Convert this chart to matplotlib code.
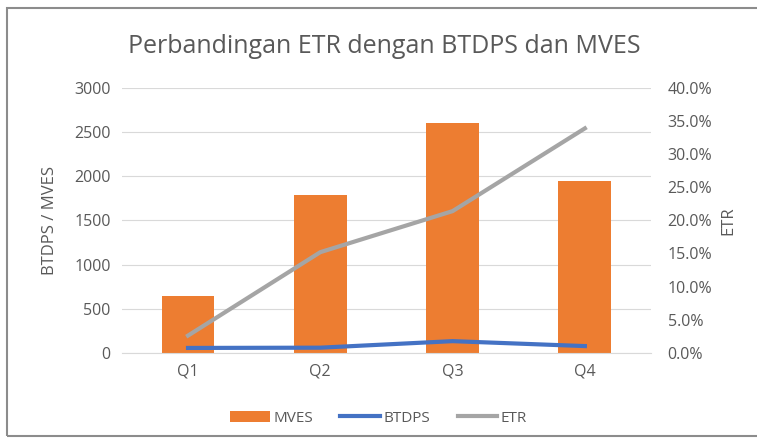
import matplotlib
matplotlib.use('Agg')
import matplotlib.pyplot as plt
from matplotlib.patches import Rectangle
from matplotlib.ticker import PercentFormatter

quarters = ['Q1', 'Q2', 'Q3', 'Q4']
mves = [645, 1790, 2600, 1950]
btdps = [55, 58, 132, 76]
etr = [2.6, 15.2, 21.4, 33.9]

plt.rcParams['font.family'] = ['Open Sans', 'DejaVu Sans']
txt = '#595959'

fig = plt.figure(figsize=(7.57, 4.41), dpi=100)
fig.patches.append(Rectangle((0.009, 0.012), 1.2, 0.97, transform=fig.transFigure,
                             fill=False, edgecolor='#8c8c8c', linewidth=1.5))

ax = fig.add_axes([0.161, 0.2, 0.699, 0.6005])
x = range(len(quarters))
ax.bar(x, mves, width=0.4, color='#ED7D31', label='MVES', zorder=2)
ax.plot(x, btdps, color='#4472C4', linewidth=3, label='BTDPS', zorder=3)
ax.set_ylim(0, 3000)
ax.set_yticks(range(0, 3001, 500))
ax.set_xlim(-0.5, 3.5)
ax.set_xticks(list(x))
ax.set_xticklabels(quarters)
ax.grid(axis='y', color='#d9d9d9', linewidth=0.8, zorder=0)
ax.set_axisbelow(True)
for s in ['top', 'right', 'left']:
    ax.spines[s].set_visible(False)
ax.spines['bottom'].set_color('#d9d9d9')
ax.tick_params(length=0, colors=txt, labelsize=11.5, pad=8)
ax.set_ylabel('BTDPS / MVES', color=txt, fontsize=12, labelpad=12)

ax2 = ax.twinx()
ax2.plot(x, etr, color='#A5A5A5', linewidth=3, label='ETR', zorder=3)
ax2.set_ylim(0, 40)
ax2.set_yticks(range(0, 41, 5))
ax2.yaxis.set_major_formatter(PercentFormatter(decimals=1))
for s in ['top', 'right', 'left', 'bottom']:
    ax2.spines[s].set_visible(False)
ax2.tick_params(length=0, colors=txt, labelsize=11.5, pad=12)
ax2.set_ylabel('ETR', color=txt, fontsize=12, labelpad=6)

fig.text(0.508, 0.895, 'Perbandingan ETR dengan BTDPS dan MVES', ha='center', va='center',
         fontsize=18, color=txt)

h1, l1 = ax.get_legend_handles_labels()
h2, l2 = ax2.get_legend_handles_labels()
order = [l1.index('MVES'), l1.index('BTDPS')]
handles = [h1[i] for i in order] + h2
labels = [l1[i] for i in order] + l2
fig.legend(handles, labels, loc='center', bbox_to_anchor=(0.5, 0.052), ncol=3,
           frameon=False, fontsize=11, labelcolor=txt, handlelength=2.6,
           handletextpad=0.2, columnspacing=1.8)

fig.savefig('out.png', dpi=100)
